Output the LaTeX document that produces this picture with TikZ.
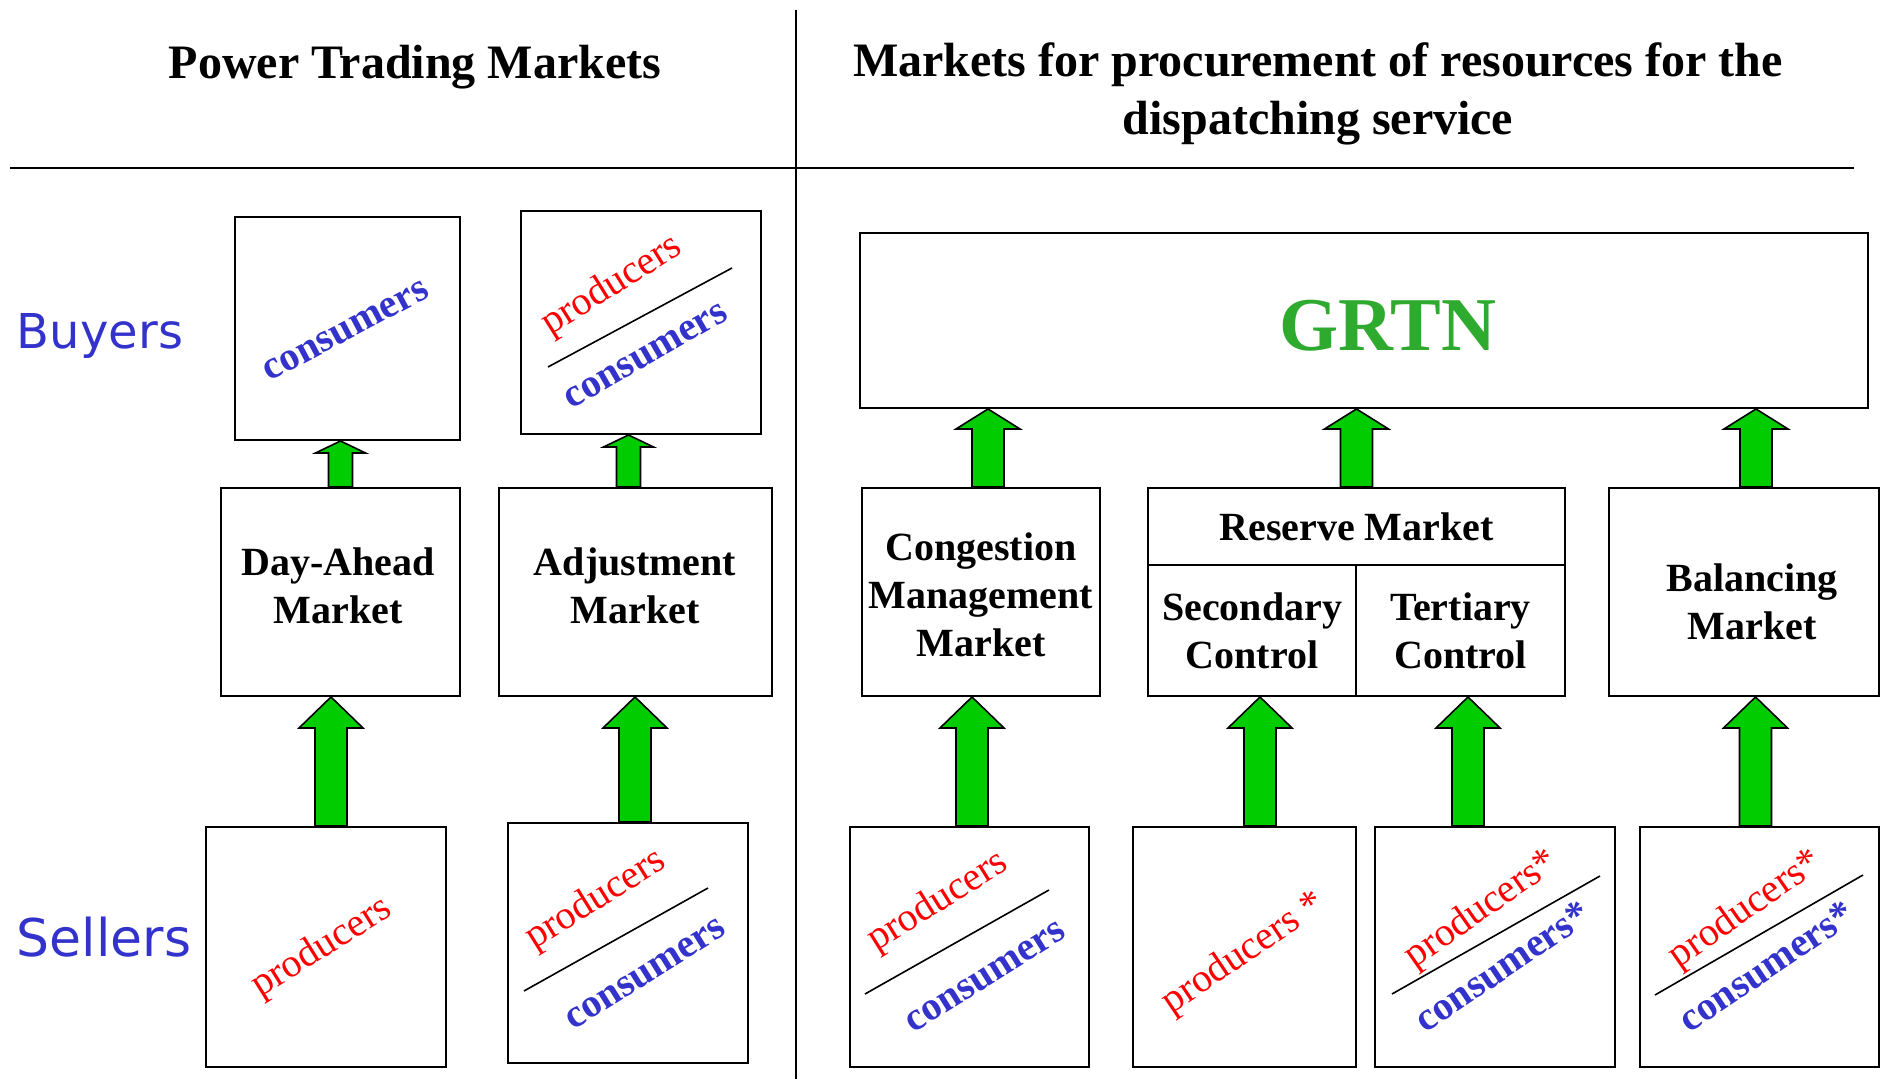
\documentclass[tikz,border=0pt]{standalone}
\usepackage{fontspec}
\setmainfont{Liberation Serif}
\newfontfamily\sidefont{DejaVu Sans}
\usetikzlibrary{calc}

\definecolor{arrowgreen}{RGB}{0,204,0}
\definecolor{grtngreen}{RGB}{46,170,46}
\definecolor{sideblue}{RGB}{51,51,204}
\definecolor{prodred}{RGB}{255,0,0}

\begin{document}
\begin{tikzpicture}[x=0.5pt,y=-0.5pt,
	mkt/.style={
		draw, line width=1pt,
		align=center, inner sep=0pt,
		font=\fontsize{20}{24}\selectfont\bfseries
	},
	mkttext/.style={
		align=center, inner sep=0pt,
		font=\fontsize{20}{24}\selectfont\bfseries
	},
	party/.style={
		draw, line width=1pt,
		inner sep=0pt,
		minimum width=120pt, minimum height=120pt
	},
	heading/.style={
		align=center,
		font=\fontsize{24}{29}\selectfont\bfseries
	},
	side/.style={
		text=sideblue,
		font=\sidefont\fontsize{24}{29}\selectfont
	},
	prod/.style={
		text=prodred, rotate=32, inner sep=0pt,
		font=\fontsize{20}{24}\selectfont
	},
	cons/.style={
		text=sideblue, rotate=32, inner sep=0pt,
		font=\fontsize{20}{24}\selectfont\bfseries
	},
	slash/.style={line width=0.8pt},
	blockarr/.style n args={3}{
		draw, fill=arrowgreen, line width=0.8pt,
		to path={let \p1=(\tikztostart), \p2=(\tikztotarget) in
			(\x1-#1,\y1) -- (\x1-#1,\y2-#3) -- (\x1-#2,\y2-#3) -- (\x1,\y2)
			-- (\x1+#2,\y2-#3) -- (\x1+#1,\y2-#3) -- (\x1+#1,\y1) -- cycle}
	},
	smallarr/.style={blockarr={6pt}{12.5pt}{6pt}},
	toparr/.style={blockarr={8pt}{16pt}{10pt}},
	lowarr/.style={blockarr={8pt}{16pt}{15.5pt}}
	]
	\useasboundingbox (0,0) rectangle (1881,1079);

	% headings and dividers
	\node[heading] (ptmtitle) at (415,67) {Power Trading Markets};
	\node[heading] (dsmtitle) at (1318,94) {Markets for procurement of resources for the\\dispatching service};
	\draw[line width=0.7pt] (796,10) -- (796,1079);
	\draw[line width=1.2pt] (10,168) -- (1854,168);

	\node[side] (buyers) at (100,336) {Buyers};
	\node[side, font=\sidefont\fontsize{26}{30}\selectfont] (sellers) at (104,937) {Sellers};

	% power trading markets
	\node[party, minimum width=112.5pt, minimum height=111.5pt] (buyda) at (347.5,328.5) {};
	\node[party, minimum height=111.5pt] (buyadj) at (641,322.5) {};
	\node[draw, line width=1pt, minimum width=119.5pt, minimum height=104pt] (dam) at (340.5,592) {};
	\node[mkttext] (damtext) at (338,586) {Day-Ahead\\Market};
	\node[draw, line width=1pt, minimum width=136.5pt, minimum height=104pt] (adj) at (635.5,592) {};
	\node[mkttext] (adjtext) at (635,586) {Adjustment\\Market};
	\node[party] (sellda) at (326,947) {};
	\node[party] (selladj) at (628,943) {};

	\node[cons, rotate=-4] (buydacons) at (346,331) {consumers};
	\node[prod] (buyadjprod) at (612,286) {producers};
	\node[cons, rotate=-2] (buyadjcons) at (646,356) {consumers};
	\draw[slash] (548,367) -- (732,268);
	\node[prod] (selldaprod) at (322,948) {producers};
	\node[prod] (selladjprod) at (596,900) {producers};
	\node[cons] (selladjcons) at (646,974) {consumers};
	\draw[slash] (524,991) -- (708,888);

	\draw[smallarr] (dam.north) to (buyda.south);
	\draw[smallarr] ([xshift=-3.5pt]adj.north) to (buyadj.south);
	\draw[lowarr] ([xshift=2.5pt]sellda.north) to (dam.south);
	\draw[lowarr] ([xshift=3.5pt]selladj.north) to (adj.south);

	% dispatching service markets
	\node[draw, line width=1pt, minimum width=504pt, minimum height=87.5pt, inner sep=0pt] (grtn) at (1364,320.5) {};
	\node[text=grtngreen, font=\fontsize{38}{42}\selectfont\bfseries, inner sep=0pt] (grtntext) at (1388,326) {GRTN};
	\node[draw, line width=1pt, minimum width=119pt, minimum height=104pt] (cmm) at (981,592) {};
	\node[mkttext] (cmmtext) at (981,595) {Congestion\\Management\\Market};
	\node[mkt, minimum width=208.5pt, minimum height=38.5pt] (resm) at (1356.5,526.5) {Reserve Market};
	\node[mkt, minimum width=104pt, minimum height=65.5pt] (sec) at (1252,630.5) {Secondary\\Control};
	\node[mkt, minimum width=104.5pt, minimum height=65.5pt] (ter) at (1460.5,630.5) {Tertiary\\Control};
	\node[draw, line width=1pt, minimum width=135pt, minimum height=104pt] (bal) at (1744,592) {};
	\node[mkttext] (baltext) at (1752,602) {Balancing\\Market};

	\node[party, minimum width=119.5pt] (sellcmm) at (969.5,947) {};
	\node[party, minimum width=111.5pt] (sellsec) at (1244.5,947) {};
	\node[party] (sellter) at (1495,947) {};
	\node[party, minimum width=119.5pt] (sellbal) at (1759.5,947) {};

	\node[prod] (sellcmmprod) at (938,902) {producers};
	\node[cons] (sellcmmcons) at (986,977) {consumers};
	\draw[slash] (865,994) -- (1049,890);
	\node[prod, rotate=2] (sellsecprod) at (1244,954) {producers *};
	\node[prod, rotate=3] (sellterprod) at (1482,910) {producers*};
	\node[cons, rotate=2] (selltercons) at (1502,966) {consumers*};
	\draw[slash] (1392,994) -- (1600,876);
	\node[prod, rotate=3] (sellbalprod) at (1746,910) {producers*};
	\node[cons, rotate=2] (sellbalcons) at (1766,966) {consumers*};
	\draw[slash] (1655,995) -- (1863,875);

	\draw[toparr] ([xshift=3.5pt]cmm.north) to (grtn.south);
	\draw[toparr] (resm.north) to (grtn.south);
	\draw[toparr] ([xshift=6pt]bal.north) to (grtn.south);
	\draw[lowarr] ([xshift=1.25pt]sellcmm.north) to (cmm.south);
	\draw[lowarr] ([xshift=7.75pt]sellsec.north) to (sec.south);
	\draw[lowarr] ([xshift=-13.5pt]sellter.north) to (ter.south);
	\draw[lowarr] ([xshift=-2pt]sellbal.north) to (bal.south);
\end{tikzpicture}
\end{document}
